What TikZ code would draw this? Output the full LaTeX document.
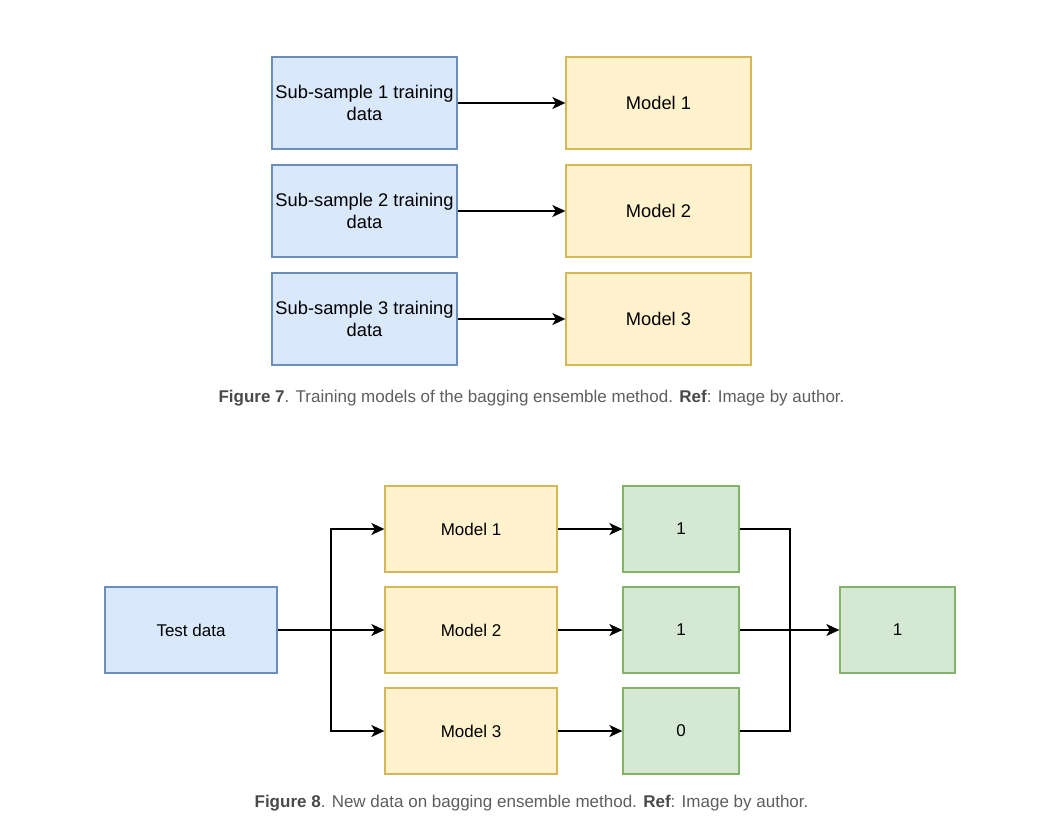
\documentclass[tikz,border=0pt]{standalone}
\usepackage{fontspec}
\setmainfont{Liberation Sans}
\usetikzlibrary{arrows.meta}
\definecolor{bfill}{HTML}{DAE8FC}
\definecolor{bline}{HTML}{6C8EBF}
\definecolor{yfill}{HTML}{FFF2CC}
\definecolor{yline}{HTML}{D6B656}
\definecolor{gfill}{HTML}{D5E8D4}
\definecolor{gline}{HTML}{82B366}
\definecolor{capgray}{HTML}{5E5E5E}
\definecolor{capdark}{HTML}{4A4A4A}
\begin{document}
\begin{tikzpicture}[x=1pt,y=-1pt,
  box/.style={draw, line width=1.3pt, inner sep=0pt, align=center, text=black},
  fsev/.style={font=\fontsize{18.3}{22}\selectfont},
  feig/.style={font=\fontsize{17}{20}\selectfont},
  bluebox/.style={box, fill=bfill, draw=bline},
  yellowbox/.style={box, fill=yfill, draw=yline},
  greenbox/.style={box, fill=gfill, draw=gline},
  big/.style={minimum width=185pt, minimum height=92pt},
  mid/.style={minimum width=172pt, minimum height=86pt},
  small/.style={minimum width=116pt, minimum height=86pt},
  arr/.style={line width=1.5pt, -{Stealth[length=13pt,width=12pt,inset=3.5pt]}},
  conn/.style={line width=1.5pt},
  caption/.style={font=\fontsize{17}{20}\selectfont, text=capgray}
]
\useasboundingbox[fill=white] (0,0) rectangle (1062,830);

% Figure 7
\node[bluebox, big, fsev] (s1) at (364.5,103) {Sub-sample 1 training\\data};
\node[bluebox, big, fsev] (s2) at (364.5,211) {Sub-sample 2 training\\data};
\node[bluebox, big, fsev] (s3) at (364.5,319) {Sub-sample 3 training\\data};
\node[yellowbox, big, fsev] (a1) at (658.5,103) {Model 1};
\node[yellowbox, big, fsev] (a2) at (658.5,211) {Model 2};
\node[yellowbox, big, fsev] (a3) at (658.5,319) {Model 3};
\draw[arr] (s1) -- (a1);
\draw[arr] (s2) -- (a2);
\draw[arr] (s3) -- (a3);
\node[caption] (cap7) at (531.5,398) {{\color{capdark}\bfseries Figure 7}. Training models of the bagging ensemble method. {\color{capdark}\bfseries Ref}: Image by author.};

% Figure 8
\node[bluebox, mid, feig] (test) at (191,630) {Test data};
\node[yellowbox, mid, feig] (m1) at (471,529) {Model 1};
\node[yellowbox, mid, feig] (m2) at (471,630) {Model 2};
\node[yellowbox, mid, feig] (m3) at (471,731) {Model 3};
\node[greenbox, small, feig] (g1) at (681,529) {1};
\node[greenbox, small, feig] (g2) at (681,630) {1};
\node[greenbox, small, feig] (g3) at (681,731) {0};
\node[greenbox, minimum width=115pt, minimum height=86pt, feig] (fin) at (897.5,630) {1};
\coordinate (br) at (331,630);
\coordinate (mg) at (790,630);
\draw[arr] (test) -- (m2);
\draw[arr] (br) |- (m1.west);
\draw[arr] (br) |- (m3.west);
\draw[arr] (m1) -- (g1);
\draw[arr] (m2) -- (g2);
\draw[arr] (m3) -- (g3);
\draw[conn] (g1.east) -| (mg);
\draw[conn] (g3.east) -| (mg);
\draw[arr] (g2) -- (fin);
\node[caption] (cap8) at (531.5,803) {{\color{capdark}\bfseries Figure 8}. New data on bagging ensemble method. {\color{capdark}\bfseries Ref}: Image by author.};
\end{tikzpicture}
\end{document}
